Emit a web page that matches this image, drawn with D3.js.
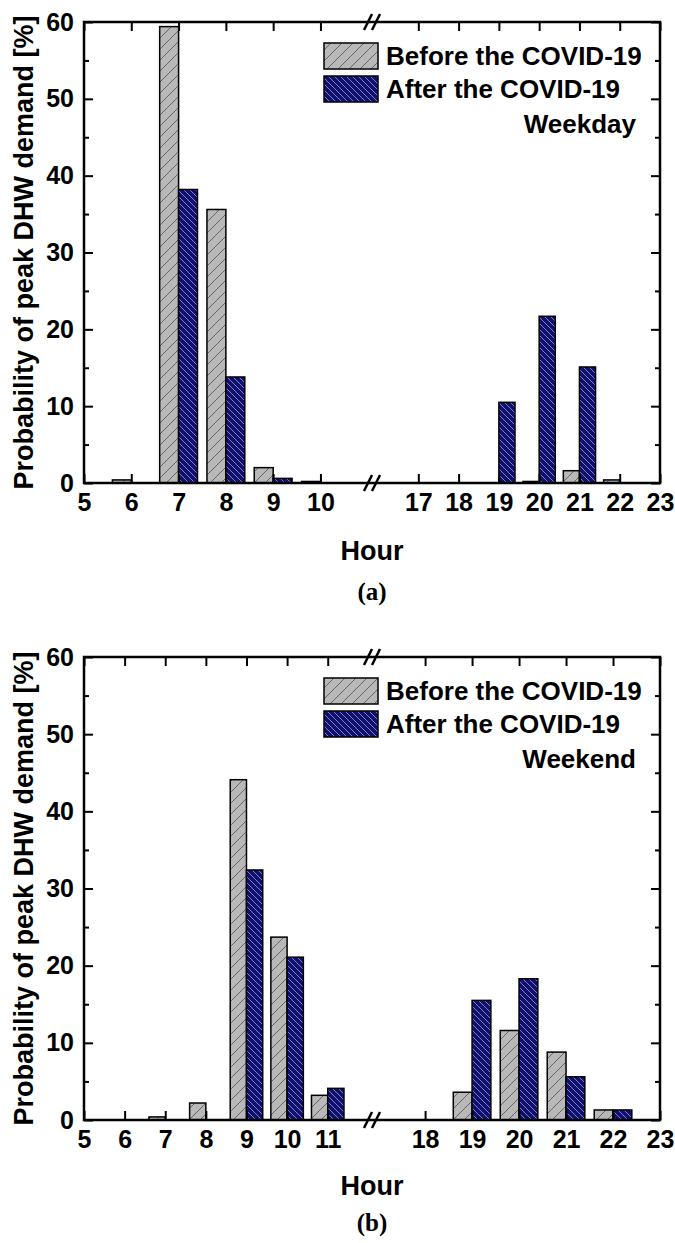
<!DOCTYPE html>
<html>
<head>
<meta charset="utf-8">
<script src="https://cdn.jsdelivr.net/npm/d3@7"></script>
<style>
  body { margin: 0; background: #fff; }
  text { font-family: 'Liberation Sans', Arial, sans-serif; font-weight: bold; fill: #000; }
</style>
</head>
<body>
<div id="chart"></div>
<script>
// (a) weekday
const weekdayHours = [6, 7, 8, 9, 10, 17, 18, 19, 20, 21, 22]
const weekdayBefore = [0.4, 59.4, 35.6, 2.0, 0.2, 0, 0, 0, 0.2, 1.6, 0.4]
const weekdayAfter = [0, 38.2, 13.8, 0.6, 0, 0, 0, 10.5, 21.7, 15.1, 0]
const weekdayTicks = [5, 6, 7, 8, 9, 10, 17, 18, 19, 20, 21, 22, 23]

// (b) weekend
const weekendHours = [7, 8, 9, 10, 11, 19, 20, 21, 22]
const weekendBefore = [0.4, 2.2, 44.1, 23.7, 3.2, 3.6, 11.6, 8.8, 1.3]
const weekendAfter = [0, 0, 32.4, 21.1, 4.1, 15.5, 18.3, 5.6, 1.3]
const weekendTicks = [5, 6, 7, 8, 9, 10, 11, 18, 19, 20, 21, 22, 23]

const yTicks = [0, 10, 20, 30, 40, 50, 60]
const yMinor = [5, 15, 25, 35, 45, 55]
const seriesNames = ['Before the COVID-19', 'After the COVID-19']

const width = 675
const height = 1243
const left = 84
const right = 660
const breakX = 372

const svg = d3
  .select('#chart')
  .append('svg')
  .attr('width', width)
  .attr('height', height)

// hatch patterns
const defs = svg.append('defs')
const pBefore = defs.append('pattern')
  .attr('id', 'hatch-before')
  .attr('patternUnits', 'userSpaceOnUse')
  .attr('width', 11).attr('height', 11)
pBefore.append('rect').attr('width', 11).attr('height', 11).attr('fill', '#b8b8b8')
pBefore.append('path')
  .attr('d', 'M-1,1 l2,-2 M0,11 l11,-11 M10,12 l2,-2')
  .attr('stroke', '#505050').attr('stroke-width', 0.8)

const pAfter = defs.append('pattern')
  .attr('id', 'hatch-after')
  .attr('patternUnits', 'userSpaceOnUse')
  .attr('width', 6).attr('height', 6)
pAfter.append('rect').attr('width', 6).attr('height', 6).attr('fill', '#10106e')
pAfter.append('path')
  .attr('d', 'M0,0 l6,6 M-1,5 l2,2 M5,-1 l2,2')
  .attr('stroke', '#9a9ad8').attr('stroke-width', 0.8)

const fmt = d3.format('d')

function drawPanel(opt) {
  const g = svg.append('g')
  const top = opt.top
  const bottom = opt.bottom

  const y = d3.scaleLinear().domain([0, 60]).range([bottom, top])
  const xl = d3.scaleLinear().domain(opt.leftDomain).range([left, breakX])
  const xr = d3.scaleLinear().domain(opt.rightDomain).range([breakX, right])
  const xPos = h => (h <= opt.leftDomain[1] ? xl(h) : xr(h))
  const bw = h => (h <= opt.leftDomain[1] ? xl(h) - xl(h - 0.4) : xr(h) - xr(h - 0.4))

  const data = opt.hours.map((h, i) => ({ h: h, before: opt.before[i], after: opt.after[i] }))

  // bars
  g.selectAll('.bar-before')
    .data(data.filter(d => d.before > 0))
    .enter()
    .append('rect')
    .attr('x', d => xPos(d.h) - bw(d.h))
    .attr('y', d => y(d.before))
    .attr('width', d => bw(d.h))
    .attr('height', d => y(0) - y(d.before))
    .attr('fill', 'url(#hatch-before)')
    .attr('stroke', '#000')
    .attr('stroke-width', 1.5)

  g.selectAll('.bar-after')
    .data(data.filter(d => d.after > 0))
    .enter()
    .append('rect')
    .attr('x', d => xPos(d.h))
    .attr('y', d => y(d.after))
    .attr('width', d => bw(d.h))
    .attr('height', d => y(0) - y(d.after))
    .attr('fill', 'url(#hatch-after)')
    .attr('stroke', '#000')
    .attr('stroke-width', 1.5)

  const leftTicks = opt.ticks.filter(t => t <= opt.leftDomain[1])
  const rightTicks = opt.ticks.filter(t => t > opt.leftDomain[1])

  // x axes (bottom with labels, top mirrored)
  ;[[xl, leftTicks], [xr, rightTicks]].forEach(([sc, tv]) => {
    g.append('g')
      .attr('class', 'axis')
      .attr('transform', `translate(0,${bottom})`)
      .call(d3.axisBottom(sc).tickValues(tv).tickFormat(fmt).tickSizeInner(-9).tickSizeOuter(0).tickPadding(10))
    g.append('g')
      .attr('class', 'axis')
      .attr('transform', `translate(0,${top})`)
      .call(d3.axisTop(sc).tickValues(tv).tickSizeInner(-9).tickSizeOuter(0).tickFormat(''))
  })

  // y axes
  g.append('g')
    .attr('class', 'axis')
    .attr('transform', `translate(${left},0)`)
    .call(d3.axisLeft(y).tickValues(yTicks).tickFormat(fmt).tickSizeInner(-9).tickSizeOuter(0).tickPadding(10))
  g.append('g')
    .attr('class', 'axis')
    .attr('transform', `translate(${left},0)`)
    .call(d3.axisLeft(y).tickValues(yMinor).tickSizeInner(-5).tickSizeOuter(0).tickFormat(''))
  g.append('g')
    .attr('class', 'axis')
    .attr('transform', `translate(${right},0)`)
    .call(d3.axisRight(y).tickValues(yTicks).tickSizeInner(-9).tickSizeOuter(0).tickFormat(''))
  g.append('g')
    .attr('class', 'axis')
    .attr('transform', `translate(${right},0)`)
    .call(d3.axisRight(y).tickValues(yMinor).tickSizeInner(-5).tickSizeOuter(0).tickFormat(''))

  g.selectAll('.axis .domain').remove()
  g.selectAll('.axis line').attr('stroke', '#000').attr('stroke-width', 2)
  g.selectAll('.axis text')
    .attr('font-size', 25)
    .attr('font-family', "'Liberation Sans', Arial, sans-serif")
    .attr('font-weight', 'bold')
    .attr('fill', '#000')

  // frame
  g.append('rect')
    .attr('x', left)
    .attr('y', top)
    .attr('width', right - left)
    .attr('height', bottom - top)
    .attr('fill', 'none')
    .attr('stroke', '#000')
    .attr('stroke-width', 2.5)

  // break marks
  ;[top, bottom].forEach(yy => {
    ;[-4, 4].forEach(o => {
      g.append('line')
        .attr('x1', breakX + o - 4)
        .attr('y1', yy + 8)
        .attr('x2', breakX + o + 4)
        .attr('y2', yy - 8)
        .attr('stroke', '#000')
        .attr('stroke-width', 2.5)
    })
  })

  // legend
  const fills = ['url(#hatch-before)', 'url(#hatch-after)']
  seriesNames.forEach((name, i) => {
    g.append('rect')
      .attr('x', 324)
      .attr('y', top + 21 + i * 33)
      .attr('width', 54)
      .attr('height', 26)
      .attr('fill', fills[i])
      .attr('stroke', '#000')
      .attr('stroke-width', 1.5)
    g.append('text')
      .attr('x', 386)
      .attr('y', top + 43 + i * 33)
      .attr('font-size', 26)
      .text(name)
  })
  g.append('text')
    .attr('x', 636)
    .attr('y', top + 111)
    .attr('text-anchor', 'end')
    .attr('font-size', 26)
    .text(opt.label)

  // axis titles
  g.append('text')
    .attr('transform', `translate(33,${(top + bottom) / 2}) rotate(-90)`)
    .attr('text-anchor', 'middle')
    .attr('font-size', 27)
    .text('Probability of peak DHW demand [%]')
  g.append('text')
    .attr('x', (left + right) / 2)
    .attr('y', opt.hourY)
    .attr('text-anchor', 'middle')
    .attr('font-size', 27)
    .text('Hour')
  g.append('text')
    .attr('x', (left + right) / 2)
    .attr('y', opt.capY)
    .attr('text-anchor', 'middle')
    .attr('font-size', 25)
    .style('font-family', "'Liberation Serif', 'Times New Roman', serif")
    .text(opt.caption)
}

drawPanel({
  top: 22, bottom: 483,
  leftDomain: [5, 11.09], rightDomain: [15.85, 23],
  hours: weekdayHours, before: weekdayBefore, after: weekdayAfter,
  ticks: weekdayTicks, label: 'Weekday', caption: '(a)',
  hourY: 560, capY: 600
})

drawPanel({
  top: 657, bottom: 1120,
  leftDomain: [5, 12.09], rightDomain: [16.87, 23],
  hours: weekendHours, before: weekendBefore, after: weekendAfter,
  ticks: weekendTicks, label: 'Weekend', caption: '(b)',
  hourY: 1195, capY: 1231
})
</script>
</body>
</html>
